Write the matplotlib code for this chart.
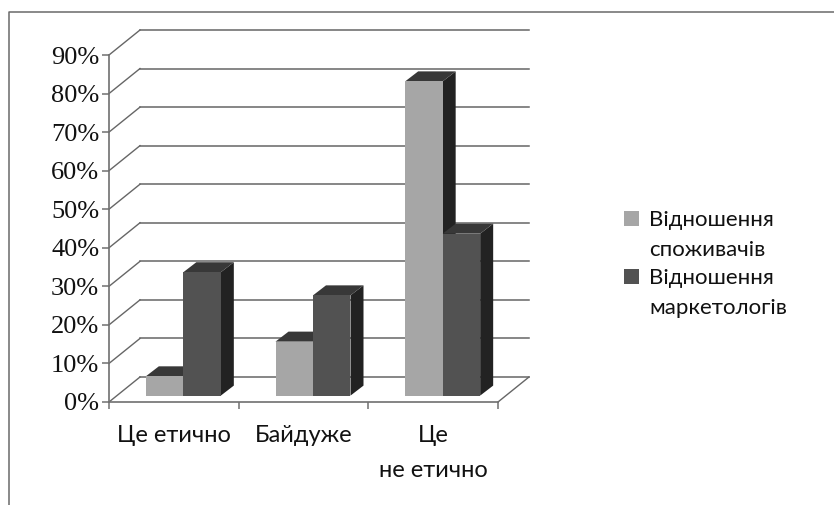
import numpy as np
import matplotlib
matplotlib.use('Agg')
import matplotlib.pyplot as plt
from matplotlib.patches import Polygon, Rectangle

# Значення для кожної категорії, %
categories = ['Це етично', 'Байдуже', 'Це\nне етично']
consumers = [5, 14, 81.5]
marketers = [32, 26, 42]
y_ticks = [0, 10, 20, 30, 40, 50, 60, 70, 80, 90]
series_names = ['Відношення\nспоживачів', 'Відношення\nмаркетологів']

W, H = 834, 505
LIGHT, DARK, TOP, SIDE = '#a6a6a6', '#525252', '#383838', '#222222'
GRID = '#666666'
SANS = ['Lato', 'Noto Sans', 'DejaVu Sans']

fig = plt.figure(figsize=(W / 100, H / 100), dpi=100)
fig.patch.set_facecolor('white')

# Передня площина осей у пікселях: x 109-498, y 402-55
ax = fig.add_axes([109 / W, (H - 402) / H, 389 / W, 347 / H])
ax.set_xlim(0, 3)
ax.set_ylim(0, 90)
ax.patch.set_visible(False)

sx = 3 / 389
sy = 90 / 347

# Зсуви псевдо-3D: глибина підлоги, глибина стовпчика, відступ стовпчика
wall_dx, wall_dy = 31 * sx, 25 * sy
bar_dx, bar_dy = 13 * sx, 10 * sy
base_dx, base_dy = 9.5 * sx, 6.4 * sy
bar_w = 37.5 * sx

# Сітка на задній стінці та скоси на бічній
for v in y_ticks:
    ax.plot([0, wall_dx], [v, v + wall_dy], color=GRID, lw=1.0, clip_on=False, zorder=1)
    ax.plot([wall_dx, 3 + wall_dx], [v + wall_dy, v + wall_dy], color=GRID, lw=1.1,
            clip_on=False, zorder=1)
ax.plot([3, 3 + wall_dx], [0, wall_dy], color=GRID, lw=1.0, clip_on=False, zorder=1)


def draw_bar(x0, value, front, z):
    # x0 - лівий край лицьової грані
    y0 = base_dy
    y1 = value + base_dy
    x1 = x0 + bar_w
    ax.bar(x0, value, width=bar_w, bottom=y0, align='edge', color=front, lw=0, zorder=z + 0.2)
    top = [(x0, y1), (x1, y1), (x1 + bar_dx, y1 + bar_dy), (x0 + bar_dx, y1 + bar_dy)]
    side = [(x1, y0), (x1 + bar_dx, y0 + bar_dy), (x1 + bar_dx, y1 + bar_dy), (x1, y1)]
    ax.add_patch(Polygon(side, closed=True, fc=SIDE, ec='none', zorder=z, clip_on=False))
    ax.add_patch(Polygon(top, closed=True, fc=TOP, ec='none', zorder=z, clip_on=False))


for i in range(len(categories)):
    center = i + 0.5 + base_dx
    draw_bar(center - bar_w, consumers[i], LIGHT, 2 + i)
    draw_bar(center, marketers[i], DARK, 2.5 + i)

# Осі та підписи
for s in ['top', 'right']:
    ax.spines[s].set_visible(False)
for s in ['left', 'bottom']:
    ax.spines[s].set_color('#707070')
    ax.spines[s].set_linewidth(1.2)

ax.set_yticks(y_ticks)
ax.set_yticklabels(['%d%%' % v for v in y_ticks], family='Liberation Serif', fontsize=19,
                   color='#111111')
ax.tick_params(axis='y', length=5, width=1.1, color='#707070', pad=2)

ax.set_xticks([0, 1, 2, 3])
ax.set_xticklabels([])
ax.tick_params(axis='x', which='major', length=5, width=1.1, color='#707070')
ax.set_xticks([0.5, 1.5, 2.5], minor=True)
ax.set_xticklabels(categories, minor=True, family=SANS, fontsize=17, color='#111111',
                   linespacing=1.8)
ax.tick_params(axis='x', which='minor', length=0, pad=16.5)


def px(x, y):
    return x / W, (H - y) / H


# Рамка області діаграми: лише верх і ліворуч
fig.add_artist(plt.Line2D([9 / W, 9 / W, 1], [0, (H - 12) / H, (H - 12) / H],
                          color='#6a6a6a', lw=1.1))

# Легенда
for name, color, y0 in zip(series_names, [LIGHT, DARK], [219, 277]):
    x, y = px(624, y0 + 7)
    fig.add_artist(Rectangle((x, y), 15 / W, 15 / H, transform=fig.transFigure,
                             fc=color, ec='none'))
    first, second = name.split('\n')
    fig.text(*px(649, y0 + 1), first, family=SANS, fontsize=16, color='#111111', va='center')
    fig.text(*px(649, y0 + 31), second, family=SANS, fontsize=16, color='#111111', va='center')

fig.savefig('out.png', dpi=100)
